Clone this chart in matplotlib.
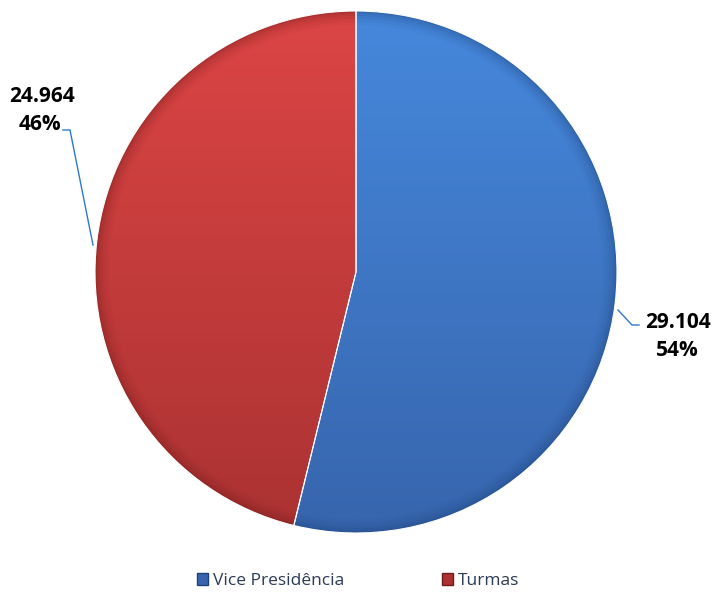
import matplotlib.pyplot as plt
import numpy as np
from matplotlib.patches import Patch, Wedge
from matplotlib.colors import LinearSegmentedColormap

categories = ['Vice Presidência', 'Turmas']
values = [29104, 24964]
# (top colour, bottom colour) of each slice's vertical gradient
gradients = [('#4688dc', '#3765ad'), ('#dc4545', '#ab3232')]
rim_colors = ['#1e4277', '#6e1c1b']

W, H = 716, 593
fig = plt.figure(figsize=(W / 100, H / 100), dpi=100)
ax = fig.add_axes([0, 0, 1, 1])

cx, cy, r = 356, H - 272, 261

wedges, _ = ax.pie(values, colors=[g[0] for g in gradients], startangle=90, counterclock=False,
                   center=(cx, cy), radius=r, frame=True,
                   wedgeprops=dict(edgecolor='white', linewidth=0.8))
ax.set_xlim(0, W)
ax.set_ylim(0, H)
ax.set_aspect('equal')
ax.axis('off')

# vertical gradient fill, clipped to each wedge, plus a darker rim
grad = np.linspace(0, 1, 256).reshape(-1, 1)
for w, (top, bot), rim in zip(wedges, gradients, rim_colors):
    cmap = LinearSegmentedColormap.from_list('g', [top, bot])
    im = ax.imshow(grad, cmap=cmap, extent=(cx - r, cx + r, cy - r, cy + r),
                   origin='upper', aspect='auto', zorder=w.get_zorder() + 0.1)
    im.set_clip_path(w)
    for k, a in enumerate([0.22, 0.12, 0.08, 0.06, 0.04]):
        ring = Wedge((cx, cy), r, w.theta1, w.theta2, width=2 + k * 3,
                     facecolor=rim, alpha=a, linewidth=0, zorder=w.get_zorder() + 0.2)
        ax.add_patch(ring)
    w.set_zorder(w.get_zorder() + 0.3)
    w.set_facecolor('none')

ax.set_xlim(0, W)
ax.set_ylim(0, H)

total = sum(values)


def fmt(v):
    return f'{v:,}'.replace(',', '.')


font = dict(family=['Open Sans', 'DejaVu Sans'], fontsize=15, fontweight='bold', color='black')

# right label (Vice Presidência)
ax.plot([618, 632, 639], [H - 310, H - 325, H - 325], color='#2f78d0', lw=1)
ax.text(678, H - 323, fmt(values[0]), ha='center', va='center', **font)
ax.text(677, H - 350, f'{values[0] / total:.0%}', ha='center', va='center', **font)

# left label (Turmas)
ax.plot([93, 70, 63], [H - 245, H - 130, H - 130], color='#2f78d0', lw=1)
ax.text(42, H - 97, fmt(values[1]), ha='center', va='center', **font)
ax.text(40, H - 125, f'{values[1] / total:.0%}', ha='center', va='center', **font)

handles = [Patch(facecolor=g[1], edgecolor=rc, label=l) for g, rc, l in zip(gradients, rim_colors, categories)]
fig.legend(handles=handles, loc='center', bbox_to_anchor=(0.50, 1 - 581 / H), ncol=2,
           frameon=False, handlelength=0.65, handleheight=0.65, handletextpad=0.3,
           columnspacing=5.6, prop=dict(family=['Open Sans', 'DejaVu Sans'], size=12.5),
           labelcolor='#2b3a55')

fig.savefig('out.png', dpi=100)
